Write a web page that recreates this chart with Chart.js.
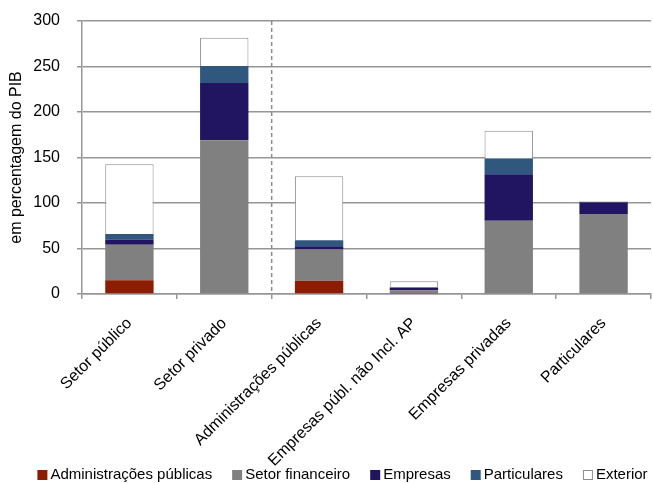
<!DOCTYPE html>
<html>
<head>
<meta charset="utf-8">
<script src="https://cdn.jsdelivr.net/npm/chart.js@4.4.1/dist/chart.umd.min.js"></script>
<style>
    body { margin: 0; background: #fff; }
    #wrap { width: 653px; height: 483px; }
</style>
</head>
<body>
<div id="wrap"><canvas id="stackChart"></canvas></div>
<script>
// Categories and stacked series (% do PIB)
const categories = ["Setor público", "Setor privado", "Administrações públicas", "Empresas públ. não Incl. AP", "Empresas privadas", "Particulares"];
const adminPublicas = [15, 0, 14.5, 0.5, 0, 0];
const setorFinanceiro = [39, 169, 34.5, 3.5, 80.5, 88];
const empresas = [6, 63, 3.5, 3, 51, 12.5];
const particulares = [6, 18.5, 6.5, 0.5, 17.5, 0.5];
const exterior = [76.5, 31, 70.5, 6.5, 30.5, 1];
const yTicks = [0, 50, 100, 150, 200, 250, 300];

const FONT = "'Liberation Sans', Arial, sans-serif";
const GRID = "#969696";

// dashed separator between "Setor privado" and "Administrações públicas"
const separator = {
    id: "separator",
    afterDatasetsDraw(chart) {
        const x = chart.scales.x;
        const area = chart.chartArea;
        const px = (x.getPixelForValue(1) + x.getPixelForValue(2)) / 2;
        const ctx = chart.ctx;
        ctx.save();
        ctx.strokeStyle = "#8c8c8c";
        ctx.lineWidth = 1.5;
        ctx.setLineDash([4, 3]);
        ctx.beginPath();
        ctx.moveTo(px, area.top);
        ctx.lineTo(px, area.bottom);
        ctx.stroke();
        ctx.restore();
    }
};

// compact legend row at the bottom (small square, tight gap to the text)
const bottomLegend = {
    id: "bottomLegend",
    afterDraw(chart) {
        const ctx = chart.ctx;
        const sets = chart.data.datasets;
        const box = 10, gap = 3, spacing = 20;
        ctx.save();
        ctx.font = "15px " + FONT;
        ctx.textBaseline = "middle";
        const widths = sets.map(d => ctx.measureText(d.label).width);
        const total = widths.reduce((a, w) => a + box + gap + w, 0) + spacing * (sets.length - 1);
        let x = (34 + 651) / 2 - total / 2;
        const y = 475;
        sets.forEach((d, i) => {
            ctx.fillStyle = d.backgroundColor;
            ctx.fillRect(x, y - box / 2, box, box);
            if (d.borderWidth) {
                ctx.strokeStyle = d.borderColor;
                ctx.lineWidth = 1;
                ctx.strokeRect(x + 0.5, y - box / 2 + 0.5, box - 1, box - 1);
            }
            ctx.fillStyle = "#000";
            ctx.fillText(d.label, x + box + gap, y);
            x += box + gap + widths[i] + spacing;
        });
        ctx.restore();
    }
};

function series(label, data, color, border) {
    return {
        label,
        data,
        backgroundColor: color,
        borderColor: border || color,
        borderWidth: border ? 1 : 0,
        barPercentage: 0.51,
        categoryPercentage: 1
    };
}

new Chart(document.getElementById("stackChart"), {
    type: "bar",
    data: {
        labels: categories,
        datasets: [
            series("Administrações públicas", adminPublicas, "#8c1d02"),
            series("Setor financeiro", setorFinanceiro, "#808080"),
            series("Empresas", empresas, "#211460"),
            series("Particulares", particulares, "#30587f"),
            series("Exterior", exterior, "#ffffff", "#8c8c8c")
        ]
    },
    options: {
        responsive: true,
        maintainAspectRatio: false,
        animation: false,
        layout: { padding: { top: 21, right: 2, left: 0, bottom: 0 } },
        plugins: {
            tooltip: { enabled: false },
            legend: { display: false }
        },
        scales: {
            x: {
                stacked: true,
                afterFit: (s) => { s.height = 189; },
                grid: { drawOnChartArea: false, color: GRID, lineWidth: 1.5, tickLength: 5 },
                border: { color: GRID, width: 1.5 },
                ticks: {
                    font: { family: FONT, size: 16 },
                    color: "#000",
                    minRotation: 45,
                    maxRotation: 45,
                    autoSkip: false,
                    padding: 15
                }
            },
            y: {
                stacked: true,
                min: 0,
                max: 300,
                // fixed width; drop the label overflow padding so the plot top stays at 21px
                afterFit: (s) => { s.width = 82; s.paddingTop = 0; s.paddingBottom = 0; },
                afterBuildTicks: (s) => { s.ticks = yTicks.map(v => ({ value: v })); },
                grid: { color: GRID, lineWidth: 1.5, tickLength: 5 },
                border: { color: GRID, width: 1.5 },
                ticks: { font: { family: FONT, size: 16 }, color: "#000", padding: 17 },
                title: {
                    display: true,
                    text: "em percentagem do PIB",
                    font: { family: FONT, size: 16 },
                    color: "#000",
                    padding: { top: 7, bottom: 0 }
                }
            }
        }
    },
    plugins: [separator, bottomLegend]
});
</script>
</body>
</html>
